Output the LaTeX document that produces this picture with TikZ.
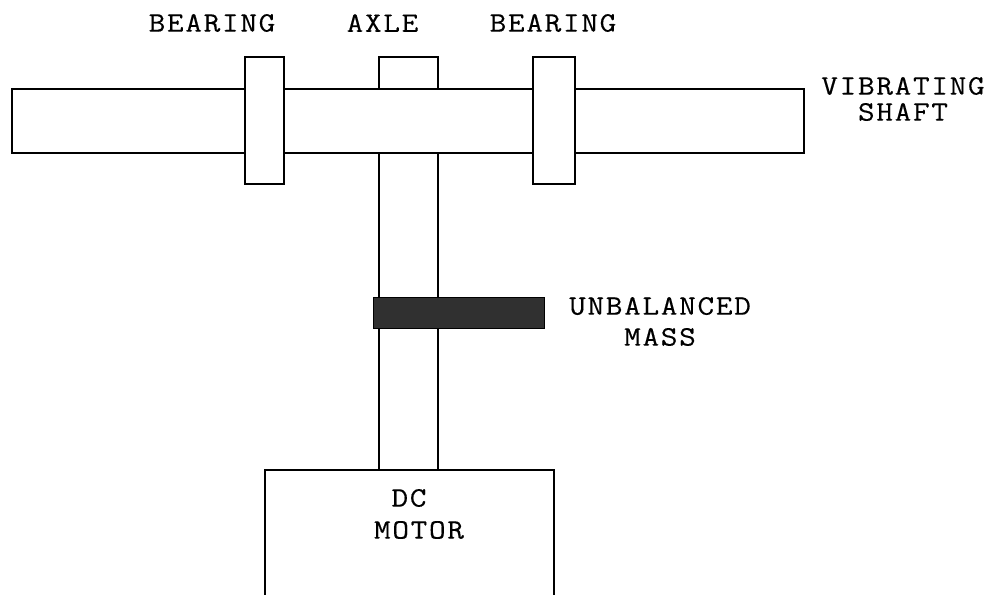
\documentclass[tikz,border=0pt]{standalone}
\usepackage{fontspec}
\setmonofont[LetterSpace=6,FakeBold=0.4,FakeStretch=1.15]{Latin Modern Mono}
\definecolor{massGray}{RGB}{48,48,48}
\usetikzlibrary{positioning}

\begin{document}
\begin{tikzpicture}[
    part/.style={rectangle, draw=black, fill=white, line width=1pt, inner sep=0pt},
    mass/.style={rectangle, draw=black, fill=massGray, line width=1pt, inner sep=0pt,
                 minimum width=3.42cm, minimum height=0.62cm},
    tag/.style={font=\ttfamily\fontsize{16}{14.8}\selectfont, align=center, inner sep=0pt}
  ]
  \useasboundingbox (0,0) rectangle (20.1,11.9);

  % axle runs behind the shaft
  \node[part, minimum width=1.18cm, minimum height=8.26cm] (axle) at (8.17,6.63) {};
  \node[part, minimum width=15.84cm, minimum height=1.28cm] (shaft) at (8.16,9.48) {};
  \node[part, minimum width=0.78cm, minimum height=2.54cm] (bearingL) at (5.29,9.49) {};
  \node[part, minimum width=0.84cm, minimum height=2.54cm] (bearingR) at (11.08,9.49) {};
  \node[mass] (unbalanced) at (9.18,5.64) {};

  % motor is cut off by the lower edge
  \node[minimum width=5.78cm, minimum height=2.5cm, inner sep=0pt] (motor) at (8.19,1.25) {};
  \draw[line width=1pt] (motor.south west) -- (motor.north west)
    -- (motor.north east) -- (motor.south east);

  \node[tag] (tagBearingL) at (4.24,11.44) {BEARING};
  \node[tag] (tagAxle) at (7.65,11.44) {AXLE};
  \node[tag] (tagBearingR) at (11.06,11.44) {BEARING};
  \node[tag] (tagShaft) at (18.06,9.92) {VIBRATING\\SHAFT};
  \node[tag] (tagMass) at (13.2,5.47) {UNBALANCED\\[2.8pt]MASS};
  \node[tag] (tagDc) at (8.18,1.94) {DC};
  \node[tag] (tagMotor) at (8.38,1.3) {MOTOR};
\end{tikzpicture}
\end{document}
